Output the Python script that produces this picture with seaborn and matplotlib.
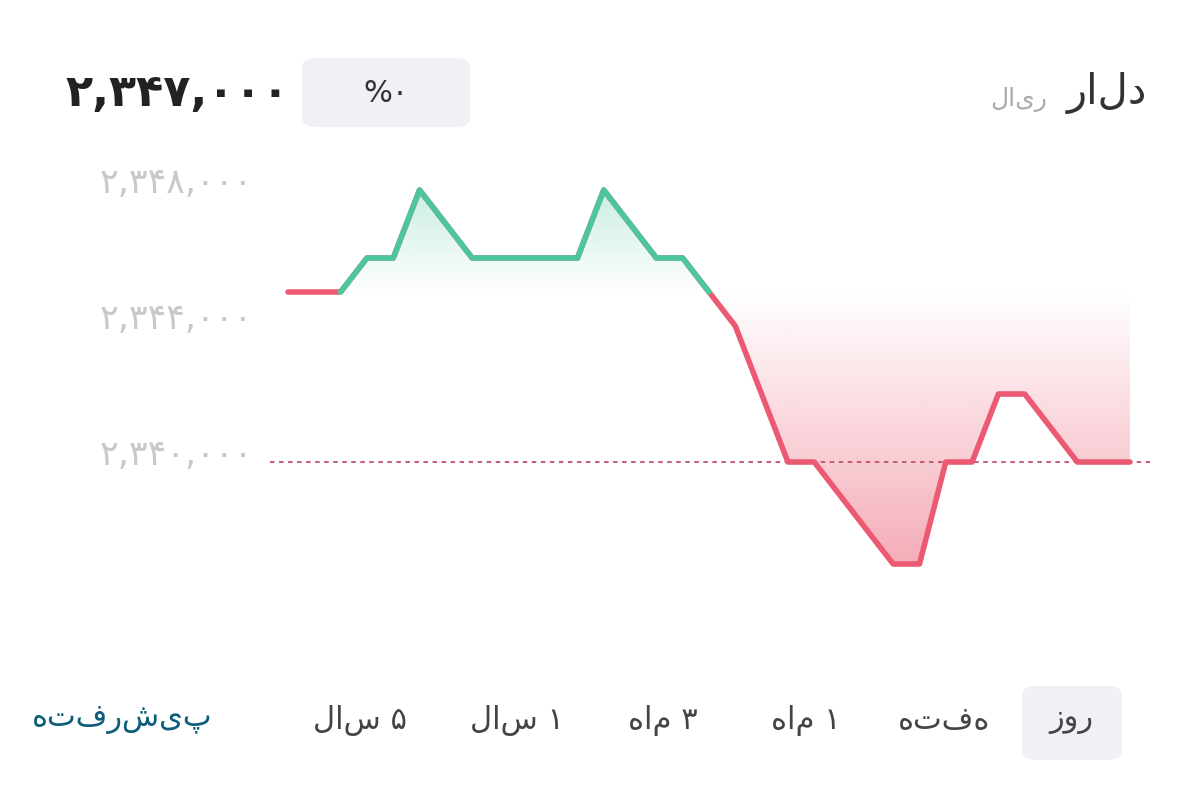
import numpy as np, pandas as pd
import matplotlib
matplotlib.use("Agg")
import matplotlib.pyplot as plt
import seaborn as sns
from matplotlib.patches import FancyBboxPatch, Polygon
from matplotlib.colors import to_rgb

steps = [0, 2, 3, 4, 5, 7, 11, 12, 14, 15, 16, 17, 19, 20, 23, 24, 25, 26, 27, 28, 30, 32]
prices = [2345000, 2345000, 2346000, 2346000, 2348000, 2346000, 2346000, 2348000, 2346000, 2346000,
          2345000, 2344000, 2340000, 2340000, 2337000, 2337000, 2340000, 2340000, 2342000, 2342000,
          2340000, 2340000]
base_price = 2345000
ref_line = 2340000
ytick_vals = [2340000, 2344000, 2348000]
ytick_labels = ["۲,۳۴۰,۰۰۰", "۲,۳۴۴,۰۰۰", "۲,۳۴۸,۰۰۰"]
periods = ["روز", "هفته", "۱ ماه", "۳ ماه", "۱ سال", "۵ سال"]
period_x = [1071, 944, 806, 663, 517, 360]

GREEN = "#4cc79d"; RED = "#eb5a72"

def rtl(s):
    return " ".join(w[::-1] if not any(c in "۰۱۲۳۴۵۶۷۸۹" for c in w) else w for w in s.split(" ")[::-1])

sns.set_theme(style="white")
plt.rcParams['font.family'] = ['DejaVu Sans']
fig = plt.figure(figsize=(12, 8), dpi=100)
ax = fig.add_axes([0.225, 0.225, 0.7333, 0.5875])
df = pd.DataFrame({"step": steps, "price": prices})
x = np.array(steps, float); y = np.array(prices, float)

xmin, xmax = -0.684, 32.76
ymin, ymax = 2335353, 2349176
ax.set_xlim(xmin, xmax); ax.set_ylim(ymin, ymax)
top = y.max(); bot = y.min()
g = np.linspace(0, 1, 256).reshape(-1, 1)

up = y >= base_price
gx = x[(x >= 2) & (x <= 16)]; gy = y[(x >= 2) & (x <= 16)]
gpoly = Polygon(np.column_stack([np.r_[gx, gx[-1], gx[0]], np.r_[gy, base_price, base_price]]),
                closed=True, transform=ax.transData, fc="none", ec="none")
ax.add_patch(gpoly)
rx = x[x >= 16]; ry = y[x >= 16]
rpoly = Polygon(np.column_stack([np.r_[rx, rx[-1], rx[0]], np.r_[ry, base_price, base_price]]),
                closed=True, transform=ax.transData, fc="none", ec="none")
ax.add_patch(rpoly)

gimg = np.zeros((256, 1, 4)); gimg[..., :3] = to_rgb(GREEN); gimg[..., 3] = g * 0.3
im1 = ax.imshow(gimg, extent=[x[0], x[-1], base_price, top], origin="lower", aspect="auto", zorder=1)
im1.set_clip_path(gpoly)
rimg = np.zeros((256, 1, 4)); rimg[..., :3] = to_rgb(RED); rimg[..., 3] = (1 - g) * 0.5
im2 = ax.imshow(rimg, extent=[x[0], x[-1], bot, base_price], origin="lower", aspect="auto", zorder=1)
im2.set_clip_path(rpoly)
ax.set_xlim(xmin, xmax); ax.set_ylim(ymin, ymax)

ax.axhline(ref_line, color="#c0506a", lw=1.3, ls=(0, (2.5, 2.5)), zorder=2)
sns.lineplot(data=df, x="step", y="price", color=RED, lw=4, ax=ax, zorder=3)
gd = df[(df.step >= 2) & (df.step <= 16)]
sns.lineplot(data=gd, x="step", y="price", color=GREEN, lw=4, ax=ax, zorder=4)

ax.set_yticks([]); ax.set_xticks([]); ax.set_xlabel(""); ax.set_ylabel("")
for s in ax.spines.values(): s.set_visible(False)
ax.patch.set_alpha(0)

def ft(px, py, s, **kw):
    fig.text(px / 1200, 1 - py / 800, s, **kw)

for v, lab in zip(ytick_vals, ytick_labels):
    py = 190 + (2348000 - v) / 1000 * 34 - 7
    ft(253, py, lab, ha="right", va="center", fontsize=25, color="#c8c8c8")

ft(1147, 93, rtl("دلار"), ha="right", va="center", fontsize=30, color="#333333")
ft(1047, 100, rtl("ریال"), ha="right", va="center", fontsize=18, color="#aaaaaa")
ft(178, 93, "۲,۳۴۷,۰۰۰", ha="center", va="center", fontsize=32, color="#222222", fontweight="bold")
fig.patches.append(FancyBboxPatch((302/1200, 1-127/800), 168/1200, 69/800, boxstyle="round,pad=0,rounding_size=0.012",
                                  transform=fig.transFigure, fc="#f0f1f5", ec="none"))
ft(386, 93, "%۰", ha="center", va="center", fontsize=22, color="#333333")
fig.patches.append(FancyBboxPatch((1022/1200, 1-760/800), 100/1200, 74/800, boxstyle="round,pad=0,rounding_size=0.012",
                                  transform=fig.transFigure, fc="#f0f1f5", ec="none"))
for p, px in zip(periods, period_x):
    ft(px, 720, rtl(p), ha="center", va="center", fontsize=22, color="#444444")
ft(122, 720, rtl("پیشرفته"), ha="center", va="center", fontsize=22, color="#0d5c7a")

fig.savefig("out.png", dpi=100)
